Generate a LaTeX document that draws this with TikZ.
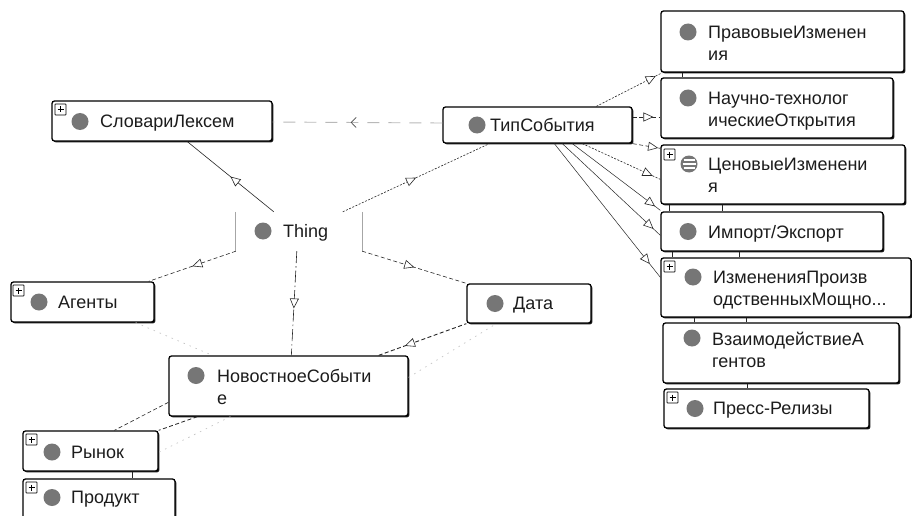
\documentclass[tikz,border=0pt]{standalone}
\usepackage{fontspec}
\setmainfont{Liberation Sans}
\usetikzlibrary{arrows.meta,decorations.markings,fit,shadows,calc}

\definecolor{dotgray}{RGB}{118,118,118}
\definecolor{ink}{RGB}{28,28,28}

\tikzset{
  clsbox/.style={draw=black, line width=1.3pt, rounded corners=2.5pt, fill=white, inner sep=0pt,
    drop shadow={shadow xshift=1.4pt, shadow yshift=-1.4pt, opacity=0.9, fill=black}},
  bare/.style={inner sep=0pt},
  lbl/.style={anchor=north west, inner sep=0pt, font=\fontsize{18}{22}\selectfont, text=ink, align=left},
  cdot/.style={circle, fill=dotgray, minimum size=17pt, inner sep=0pt},
  conn/.style={draw=black!85, line width=0.6pt},
  dotline/.style={conn, dash pattern=on 2pt off 1.5pt},
  dashline/.style={conn, dash pattern=on 4pt off 2.5pt},
  dashdotline/.style={conn, dash pattern=on 12pt off 3pt on 1.5pt off 3pt},
  faint/.style={draw=gray!45, line width=0.7pt, dash pattern=on 1.5pt off 5pt},
  tri/.style={postaction={decorate, decoration={markings,
    mark=at position #1 with {\arrow[line width=0.6pt]{Triangle[open, length=10pt, width=9pt, fill=white]}}}}},
  trirev/.style={postaction={decorate, decoration={markings,
    mark=at position #1 with {\arrowreversed[line width=0.6pt]{Triangle[open, length=10pt, width=9pt, fill=white]}}}}},
  barb/.style={postaction={decorate, decoration={markings,
    mark=at position #1 with {\arrow[line width=0.7pt, black!70]{Straight Barb[length=5pt, width=10pt]}}}}},
}

% expand/collapse marker in a box corner
\newcommand\plusicon[2]{%
  \draw[line width=0.7pt, rounded corners=0.6pt, fill=white] (#1,#2) rectangle ++(11,11);
  \draw[line width=0.8pt] (#1+2.5,#2+5.5) -- ++(6,0) (#1+5.5,#2+2.5) -- ++(0,6);
}

\begin{document}
\begin{tikzpicture}[x=1pt, y=-1pt]
\useasboundingbox (0,0) rectangle (912,516);
\fill[white] (0,0) rectangle (912,516);

% ---------- class boxes ----------
\node[clsbox, fit={(52,101) (272,141)}] (slov) {};
\node[clsbox, fit={(443,107) (632,143)}] (tip) {};
\node[clsbox, fit={(661,11) (904,72)}] (prav) {};
\node[clsbox, fit={(661,78) (893,138)}] (nauch) {};
\node[clsbox, fit={(661,145) (905,204)}] (cen) {};
\node[clsbox, fit={(661,212) (883,251)}] (imp) {};
\node[clsbox, fit={(661,258) (911,317)}] (izm) {};
\node[clsbox, fit={(663,323) (899,383)}] (vzaim) {};
\node[clsbox, fit={(664,389) (869,428)}] (press) {};
\node[clsbox, fit={(467,284) (591,323)}] (data) {};
\node[clsbox, fit={(11,282) (154,322)}] (agent) {};
\node[clsbox, fit={(169,356) (408,416)}] (news) {};
\node[clsbox, fit={(23,431) (158,471)}] (rynok) {};
\node[clsbox, fit={(23,479) (175,522)}] (prod) {};
\node[bare, fit={(236,212) (362,251)}] (thing) {};
\draw[gray!70, line width=0.8pt] (thing.north west) -- (thing.south west)
  (thing.north east) -- (thing.south east);

% ---------- connectors ----------
\draw[conn, trirev=0.5] ([xshift=136pt]slov.south west) -- ([xshift=38pt]thing.north west);
\draw[dotline, tri=0.5] ([xshift=107pt]thing.north west) -- ([xshift=47pt]tip.south west);
\draw[dashline, tri=0.5] (thing.south west) -- ([xshift=-6pt]agent.north east);
\draw[dashdotline, tri=0.55] ([xshift=61pt]thing.south west) -- ([xshift=123pt]news.north west);
\draw[dashline, tri=0.5] (thing.south east) -- (data.north west);
\draw[draw=gray!55, line width=0.9pt, dash pattern=on 12pt off 9pt, barb=0.54]
  ([yshift=2pt]tip.west) -- ([yshift=-1pt]slov.east);

\draw[dotline, tri=0.9] ([xshift=154pt]tip.north west) -- ([xshift=2pt]prav.south west);
\draw[dashline, tri=0.75] ([yshift=8pt]tip.east) -- ([yshift=-9pt]nauch.west);
\draw[dashline, tri=0.92] (tip.south east) -- ([yshift=-4pt]cen.north west);
\draw[dotline, tri=0.9] ([xshift=140pt]tip.south west) -- ([yshift=-35pt]cen.north west);
\draw[conn, line width=0.5pt, tri=0.94] ([xshift=130pt]tip.south west) -- ([yshift=1pt]imp.north west);
\draw[conn, line width=0.5pt, tri=0.93] ([xshift=120pt]tip.south west) -- ([yshift=-24pt]imp.north west);
\draw[conn, line width=0.5pt, tri=0.9] ([xshift=112pt]tip.south west) -- ([yshift=-20pt]izm.north west);

\draw[dashline, line width=0.9pt, trirev=0.3] ([xshift=-30pt]news.north east) -- (data.south west);
\draw[faint] ([yshift=-22pt]news.north east) -- ([xshift=30pt]data.south west);
\draw[faint] ([xshift=-19pt]agent.south east) -- ([xshift=44pt]news.north west);
\draw[dashline] ([yshift=-47pt]news.north west) -- ([xshift=92pt]rynok.north west);
\draw[dashline, line width=0.8pt] ([xshift=29pt]news.south west) -- (rynok.north east);
\draw[faint] ([xshift=62pt]news.south west) -- ([yshift=-22pt]rynok.north east);

% short links between stacked boxes
\draw[conn] ([xshift=22pt]prav.south west) -- ([xshift=22pt]nauch.north west);
\draw[conn] ([xshift=9pt]cen.south west) -- ([xshift=9pt]imp.north west);
\draw[conn] ([xshift=62pt]cen.south west) -- ([xshift=62pt]imp.north west);
\draw[conn] ([xshift=12pt]imp.south west) -- ([xshift=12pt]izm.north west);
\draw[conn] ([xshift=79pt]imp.south west) -- ([xshift=79pt]izm.north west);
\draw[conn] ([xshift=34pt]izm.south west) -- ([xshift=32pt]vzaim.north west);
\draw[conn] ([xshift=86pt]izm.south west) -- ([xshift=84pt]vzaim.north west);
\draw[conn] ([xshift=85pt]vzaim.south west) -- ([xshift=84pt]press.north west);
\draw[conn] ([xshift=110pt]rynok.south west) -- ([xshift=110pt]prod.north west);

% ---------- icons and labels ----------
\plusicon{55}{104}
\plusicon{664}{149}
\plusicon{664}{261}
\plusicon{667}{392}
\plusicon{13}{285}
\plusicon{26}{434}
\plusicon{26}{482}

\node[cdot] (dslov) at (80,121.5) {};
\node[lbl] (tslov) at (100,115) {СловариЛексем};
\node[cdot] (dtip) at (477,125) {};
\node[lbl] (ttip) at (490,118.5) {ТипСобытия};
\node[cdot] (dprav) at (688,32) {};
\node[lbl] (tprav) at (708,25.5) {ПравовыеИзменен\\ия};
\node[cdot] (dnauch) at (688,98) {};
\node[lbl] (tnauch) at (708,91.5) {Научно-технолог\\ическиеОткрытия};
\node[cdot] (dcen) at (689,164) {};
\draw[white, line width=1.3pt] (683.5,160) -- (694.5,160) (682.5,164) -- (695.5,164) (683.5,168) -- (694.5,168);
\node[lbl] (tcen) at (708,157.5) {ЦеновыеИзменени\\я};
\node[cdot] (dimp) at (688,231.5) {};
\node[lbl] (timp) at (708,225) {Импорт/Экспорт};
\node[cdot] (dizm) at (693,277) {};
\node[lbl] (tizm) at (713,270.5) {ИзмененияПроизв\\одственныхМощно...};
\node[cdot] (dvzaim) at (692,338) {};
\node[lbl] (tvzaim) at (712,331.5) {ВзаимодействиеА\\гентов};
\node[cdot] (dpress) at (695,408.5) {};
\node[lbl] (tpress) at (713,402) {Пресс-Релизы};
\node[cdot] (ddata) at (495,303.5) {};
\node[lbl] (tdata) at (513,297) {Дата};
\node[cdot] (dagent) at (39,302) {};
\node[lbl] (tagent) at (58,295.5) {Агенты};
\node[cdot] (dnews) at (196,375.5) {};
\node[lbl] (tnews) at (217,369) {НовостноеСобыти\\е};
\node[cdot] (drynok) at (52,452) {};
\node[lbl] (trynok) at (71,445.5) {Рынок};
\node[cdot] (dprod) at (52,497.5) {};
\node[lbl] (tprod) at (71,491) {Продукт};
\node[cdot] (dthing) at (263,231) {};
\node[lbl] (tthing) at (283,224.5) {Thing};
\end{tikzpicture}
\end{document}
